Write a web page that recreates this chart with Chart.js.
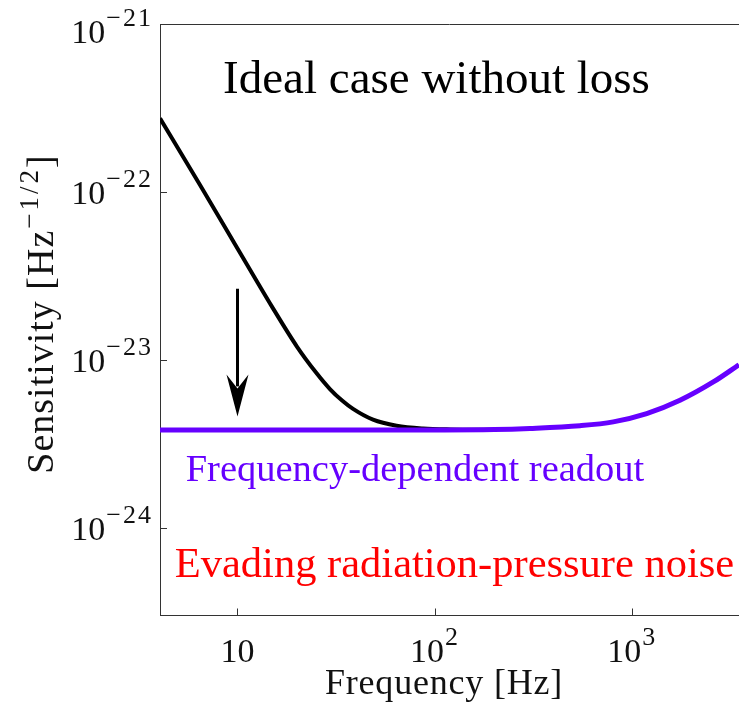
<!DOCTYPE html>
<html>
<head>
<meta charset="utf-8">
<script src="https://cdn.jsdelivr.net/npm/chart.js@4.4.1/dist/chart.umd.min.js"></script>
<style>
  html, body { margin: 0; padding: 0; background: #fff; overflow: hidden; }
  canvas { display: block; }
</style>
</head>
<body>
<canvas id="sensChart" width="739" height="702"></canvas>
<script>
// ── Data ──────────────────────────────────────────────────────────────────
const idealFreq = [4.05, 6.46, 10, 12, 15, 20, 25, 29.4, 34, 38.5, 48.6, 64, 87, 120, 200];
const idealSens = [2.74e-22, 1.10e-22, 4.6e-23, 3.2e-23, 2.06e-23, 1.2e-23, 8.4e-24, 6.7e-24,
                   5.7e-24, 5.1e-24, 4.4e-24, 4.05e-24, 3.9e-24, 3.85e-24, 3.83e-24];

const fdrFreq = [4.05, 100, 200, 303, 543, 801, 1183, 1744, 2573, 3472];
const fdrSens = [3.82e-24, 3.82e-24, 3.84e-24, 3.90e-24, 4.05e-24, 4.27e-24, 4.78e-24, 5.74e-24, 7.38e-24, 9.35e-24];

const xTickVals = [10, 100, 1000];
const xTickExps = ['', '2', '3'];
const yTickVals = [1e-21, 1e-22, 1e-23, 1e-24];
const yTickExps = ['−21', '−22', '−23', '−24'];

const xRange = [4.05, 3472];
const yRange = [3.07e-25, 1e-21];

// arrow: from / to (in data units) at 10 Hz
const arrowAt = { x: 10, from: 2.65e-23, to: 4.6e-24 };

const SERIF = '"Liberation Serif", "DejaVu Serif", serif';
const PURPLE = '#6600ff';
const AXIS = '#333333';

// ── Helpers ───────────────────────────────────────────────────────────────
function pts(xs, ys) { return xs.map((x, i) => ({ x: x, y: ys[i] })); }

function setFont(ctx, size, spacing) {
    ctx.font = size + 'px ' + SERIF;
    ctx.letterSpacing = (spacing || 0) + 'px';
}

// "10" with a superscript exponent
function drawPow(ctx, base, exp, x, y, align) {
    setFont(ctx, 34, 0);
    const wb = ctx.measureText(base).width;
    setFont(ctx, 26, 2);
    const we = exp ? ctx.measureText(exp).width + 1 : 0;
    const total = wb + we;
    let left = x;
    if (align === 'right') left = x - total;
    else if (align === 'center') left = x - total / 2;
    ctx.textAlign = 'left';
    ctx.textBaseline = 'alphabetic';
    setFont(ctx, 34, 0);
    ctx.fillText(base, left, y);
    if (exp) {
        setFont(ctx, 26, 2);
        ctx.fillText(exp, left + wb + 1, y - 17);
    }
    setFont(ctx, 34, 0);
}

// ── Decoration plugin: inward ticks, labels, titles, arrow, notes ────────
const decor = {
    id: 'decor',
    afterDraw(chart) {
        const ctx = chart.ctx;
        const xs = chart.scales.x, ys = chart.scales.y;
        const a = chart.chartArea;
        ctx.save();

        // top frame line
        ctx.strokeStyle = AXIS;
        ctx.lineWidth = 1;
        ctx.beginPath();
        ctx.moveTo(a.left, a.top + 0.5);
        ctx.lineTo(a.right, a.top + 0.5);
        ctx.stroke();

        // inward ticks
        ctx.beginPath();
        xs.ticks.forEach(t => {
            const px = Math.round(xs.getPixelForValue(t.value)) + 0.5;
            ctx.moveTo(px, a.bottom);
            ctx.lineTo(px, a.bottom - 7);
        });
        ys.ticks.forEach(t => {
            const py = Math.round(ys.getPixelForValue(t.value)) + 0.5;
            ctx.moveTo(a.left, py);
            ctx.lineTo(a.left + 7, py);
        });
        ctx.stroke();

        // tick labels
        ctx.fillStyle = '#111';
        xs.ticks.forEach((t, i) => {
            drawPow(ctx, '10', xTickExps[i], xs.getPixelForValue(t.value), 662, 'center');
        });
        ys.ticks.forEach((t, i) => {
            const py = ys.getPixelForValue(t.value);
            drawPow(ctx, '10', yTickExps[i], 153, Math.max(py + 12, 43), 'right');
        });

        // x title
        setFont(ctx, 36, 0.8);
        ctx.textAlign = 'center';
        ctx.fillText('Frequency [Hz]', 444, 694);

        // y title (rotated)
        ctx.save();
        ctx.translate(53, 314);
        ctx.rotate(-Math.PI / 2);
        const s1 = 'Sensitivity [Hz', s2 = '−1/2', s3 = ']';
        setFont(ctx, 38, 1);
        const w1 = ctx.measureText(s1).width, w3 = ctx.measureText(s3).width;
        setFont(ctx, 27, 3);
        const w2 = ctx.measureText(s2).width;
        const lx = -(w1 + w2 + w3) / 2;
        ctx.textAlign = 'left';
        setFont(ctx, 38, 1);
        ctx.fillText(s1, lx, 0);
        setFont(ctx, 27, 3);
        ctx.fillText(s2, lx + w1 + 1, -15);
        setFont(ctx, 38, 1);
        ctx.fillText(s3, lx + w1 + w2, 0);
        ctx.restore();

        // arrow
        const ax = xs.getPixelForValue(arrowAt.x);
        const ay0 = ys.getPixelForValue(arrowAt.from);
        const ay1 = ys.getPixelForValue(arrowAt.to);
        ctx.strokeStyle = '#000';
        ctx.lineWidth = 3;
        ctx.beginPath();
        ctx.moveTo(ax, ay0);
        ctx.lineTo(ax, ay1 - 30);
        ctx.stroke();
        ctx.fillStyle = '#000';
        ctx.beginPath();
        ctx.moveTo(ax, ay1);
        ctx.lineTo(ax - 11, ay1 - 42);
        ctx.lineTo(ax, ay1 - 28);
        ctx.lineTo(ax + 11, ay1 - 42);
        ctx.closePath();
        ctx.fill();

        // annotations
        ctx.textAlign = 'center';
        ctx.fillStyle = '#000';
        setFont(ctx, 47, 0);
        ctx.fillText('Ideal case without loss', 436.5, 93);
        ctx.fillStyle = PURPLE;
        setFont(ctx, 38.5, 0);
        ctx.fillText('Frequency-dependent readout', 415, 481);
        ctx.fillStyle = '#ff0000';
        setFont(ctx, 42.5, 0);
        ctx.fillText('Evading radiation-pressure noise', 454.5, 577);

        ctx.restore();
    }
};

// ── Chart ─────────────────────────────────────────────────────────────────
const chart = new Chart(document.getElementById('sensChart').getContext('2d'), {
    type: 'line',
    data: {
        datasets: [
            { label: 'Frequency-dependent readout', data: pts(fdrFreq, fdrSens), borderColor: PURPLE,
              borderWidth: 5, pointRadius: 0, cubicInterpolationMode: 'monotone', fill: false },
            { label: 'Ideal case without loss', data: pts(idealFreq, idealSens), borderColor: '#000',
              borderWidth: 4, pointRadius: 0, cubicInterpolationMode: 'monotone', fill: false }
        ]
    },
    options: {
        responsive: false,
        devicePixelRatio: 1,
        animation: false,
        layout: { padding: { top: 24, left: 0, right: 0, bottom: 0 } },
        plugins: { legend: { display: false }, tooltip: { enabled: false } },
        scales: {
            x: {
                type: 'logarithmic', min: xRange[0], max: xRange[1],
                grid: { display: false },
                border: { display: true, color: AXIS, width: 1 },
                ticks: { display: false },
                afterBuildTicks: s => { s.ticks = xTickVals.map(v => ({ value: v })); },
                afterFit: s => { s.height = 86.5; }
            },
            y: {
                type: 'logarithmic', min: yRange[0], max: yRange[1],
                grid: { display: false },
                border: { display: true, color: AXIS, width: 1 },
                ticks: { display: false },
                afterBuildTicks: s => { s.ticks = yTickVals.map(v => ({ value: v })); },
                afterFit: s => { s.width = 160; }
            }
        }
    },
    plugins: [decor]
});
</script>
</body>
</html>
